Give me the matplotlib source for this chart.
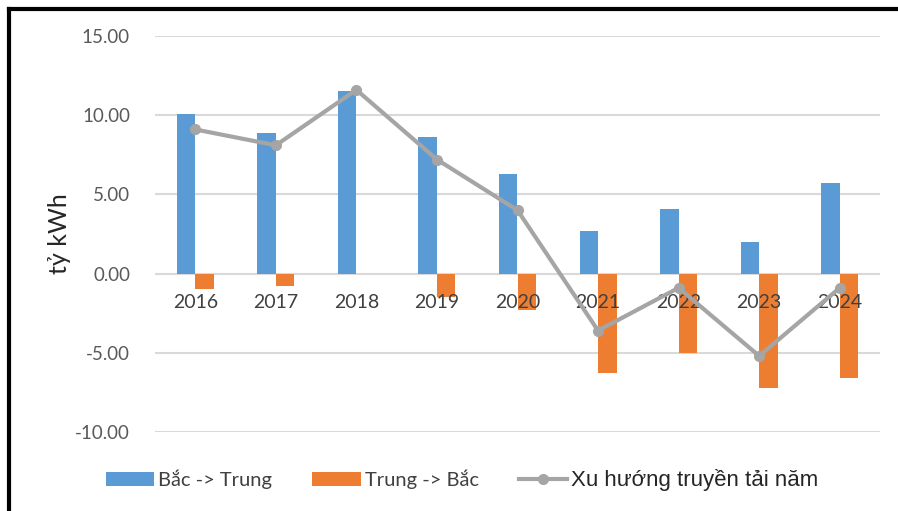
import matplotlib.pyplot as plt
from matplotlib.lines import Line2D
import numpy as np

plt.rcParams['font.family'] = ['Lato', 'DejaVu Sans']

years = ['2016', '2017', '2018', '2019', '2020', '2021', '2022', '2023', '2024']
bac_trung = [10.1, 8.9, 11.5, 8.6, 6.3, 2.7, 4.1, 2.0, 5.7]
trung_bac = [-1.0, -0.8, 0.0, -1.5, -2.3, -6.3, -5.0, -7.2, -6.6]
xu_huong = [9.1, 8.1, 11.6, 7.2, 4.0, -3.6, -0.9, -5.2, -0.9]

blue = '#5B9BD5'
orange = '#ED7D31'
gray = '#A5A5A5'

fig = plt.figure(figsize=(8.98, 5.11), dpi=100)
ax = fig.add_axes([155/898, 1 - 432/511, 725/898, 396/511])

x = np.arange(len(years))
w = 0.23
b1 = ax.bar(x - w/2, bac_trung, w, color=blue, label='Bắc -> Trung', zorder=2)
b2 = ax.bar(x + w/2, trung_bac, w, color=orange, label='Trung -> Bắc', zorder=2)
ln, = ax.plot(x, xu_huong, color=gray, lw=3, marker='o', ms=7,
              label='Xu hướng truyền tải năm', zorder=4)

ax.set_xlim(-0.5, len(years) - 0.5)
ax.set_ylim(-10, 15)
ax.set_yticks([-10, -5, 0, 5, 10, 15])
ax.set_yticklabels(['%.2f' % v for v in [-10, -5, 0, 5, 10, 15]])
ax.yaxis.grid(True, color='#D9D9D9', lw=1.5)
ax.set_axisbelow(True)

# year labels sit just under the zero line, drawn over the bars
ax.spines['bottom'].set_position(('data', 0))
ax.set_xticks(x)
ax.set_xticklabels(years)
ax.xaxis.set_zorder(3)
for s in ['top', 'right', 'left', 'bottom']:
    ax.spines[s].set_visible(False)
ax.tick_params(axis='x', length=0, pad=15, labelsize=14, labelcolor='#404040')
ax.tick_params(axis='y', length=0, pad=18, labelsize=13.5, labelcolor='#595959')

ax.set_ylabel('tỷ kWh', fontsize=18, color='#262626', labelpad=3)

leg = ax.legend([b1, b2, ln], [b1.get_label(), b2.get_label(), ln.get_label()],
                loc='center', bbox_to_anchor=(462/898, 1 - 480/511),
                bbox_transform=fig.transFigure, ncol=3, frameon=False,
                fontsize=14.5, handlelength=2.4, columnspacing=2.0,
                handletextpad=0.2)
for t in leg.get_texts():
    t.set_color('#404040')
leg.get_texts()[2].set_family(['Liberation Sans', 'DejaVu Sans'])
leg.get_texts()[2].set_fontsize(16)
leg.get_texts()[2].set_color('#262626')

# dark frame along top and left edges
fig.add_artist(Line2D([9/898, 9/898], [0, 1 - 9/511], color='black', lw=3,
                      transform=fig.transFigure))
fig.add_artist(Line2D([9/898, 1], [1 - 9/511, 1 - 9/511], color='black', lw=3,
                      transform=fig.transFigure))

fig.savefig('out.png', dpi=100)
